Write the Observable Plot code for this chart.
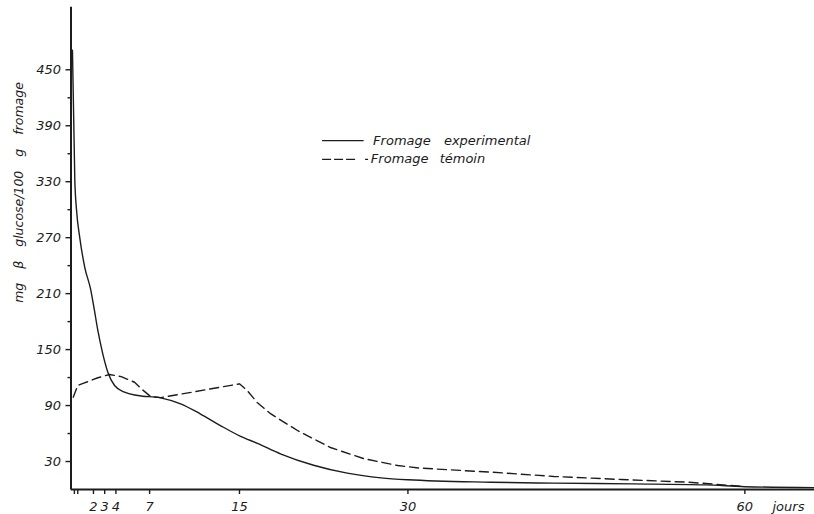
<!DOCTYPE html>
<html>
<head>
<meta charset="utf-8">
<script src="https://cdn.jsdelivr.net/npm/d3@7"></script>
<script src="https://cdn.jsdelivr.net/npm/@observablehq/plot@0.6"></script>
<style>
  html, body { margin: 0; padding: 0; background: #fff; }
  #chart svg text { font-family: "DejaVu Sans", sans-serif; font-style: oblique; }
</style>
</head>
<body>
<div id="chart"></div>
<script>
// ---- data ----
const expDays  = [0.13, 0.34, 0.49, 0.78, 1.23, 1.74, 2.03, 2.39, 2.83, 3.28, 3.88, 4.77, 5.95, 7.98, 9.76, 11.5, 13.3, 15.1, 16.6, 18.7, 21.6, 24.6, 27.6, 30, 37.4, 43, 50, 56.5, 60, 66.2];
const expGluc  = [471, 331, 300, 270, 238, 215, 196, 170.5, 145.5, 125.8, 111.5, 104.3, 100.8, 98.3, 91.9, 81.2, 68.6, 57, 49.5, 38, 26, 17.5, 12.5, 10.4, 7.8, 6.8, 6, 5, 3, 2];
const temDays  = [0.2, 0.6, 1.14, 2.39, 3.43, 4.47, 5.66, 6.26, 7.1, 8.0, 15, 15.7, 16.6, 17.8, 20.2, 23.1, 26.1, 29.1, 31, 37.4, 43, 49, 55, 60];
const temGluc  = [99, 111.5, 114, 119.8, 123.3, 121, 115, 108, 99.5, 98.5, 113.3, 106, 93, 81, 63, 45, 33, 25.7, 23, 18.6, 14, 10.7, 7.8, 3.2];
const seriesNames = ["Fromage experimental", "Fromage témoin"];
const xTicks = [0.3, 0.6, 2, 3, 4, 7, 15, 30, 60];
const xTickLabels = ["", "", "2", "3", "4", "7", "15", "30", "60"];
const yTicks = [30, 90, 150, 210, 270, 330, 390, 450];
const yMinorTicks = [60, 120, 180, 240, 300, 360, 420];
const yLabel = "mg β glucose/100 g fromage";
const xUnit = "jours";

// ---- build tables ----
const expData = expDays.map((d, i) => ({day: d, g: expGluc[i]}));
const temData = temDays.map((d, i) => ({day: d, g: temGluc[i]}));
const xLabelMap = new Map(xTicks.map((t, i) => [t, xTickLabels[i]]));

// legend layout (in data units)
const legend = {x1: 22.4, x2: 26.1, x2b: 26.5, xt: 26.9, y1: 374, y2: 354};

const ink = "#1c1c1c";
const plot = Plot.plot({
  width: 814,
  height: 514,
  marginLeft: 70.5,
  marginRight: 0,
  marginTop: 4,
  marginBottom: 25,
  style: {fontFamily: "DejaVu Sans, sans-serif", color: ink, background: "#fff"},
  x: {domain: [0, 66.2]},
  y: {domain: [0, 520]},
  marks: [
    // axes lines
    Plot.ruleY([0], {stroke: ink, strokeWidth: 2}),
    Plot.ruleX([0], {y1: 0, y2: 517, stroke: ink, strokeWidth: 2}),
    // x ticks
    Plot.axisX(xTicks, {tickSize: 5, tickPadding: 7, fontSize: 13, label: null,
      tickFormat: d => xLabelMap.get(d), stroke: ink, strokeWidth: 1.4}),
    Plot.text([xUnit], {frameAnchor: "bottom-right", dx: -42, dy: 12, textAnchor: "start",
      lineAnchor: "top", fontSize: 13, fill: ink}),
    // y ticks
    Plot.axisY(yTicks, {tickSize: 5, tickPadding: 5, fontSize: 13, label: null,
      stroke: ink, strokeWidth: 1.4}),
    Plot.axisY(yMinorTicks, {tickSize: 3, text: null, label: null, stroke: ink, strokeWidth: 1.4}),
    // y label
    Plot.text([yLabel], {frameAnchor: "left", dx: -52, dy: -54.5, rotate: -90, textAnchor: "middle",
      fontSize: 12.5, fill: ink}),
    // series
    Plot.line(expData, {x: "day", y: "g", stroke: ink, strokeWidth: 1.4, curve: "monotone-x"}),
    Plot.line(temData, {x: "day", y: "g", stroke: ink, strokeWidth: 1.4, strokeDasharray: "9,5", curve: "linear"}),
    // legend
    Plot.ruleY([legend.y1], {x1: legend.x1, x2: legend.x2, stroke: ink, strokeWidth: 1.4}),
    Plot.ruleY([legend.y2], {x1: legend.x1, x2: legend.x2b, stroke: ink, strokeWidth: 1.4,
      strokeDasharray: "9,3,9,3,9,10,3,100"}),
    Plot.text([seriesNames[0]], {x: legend.xt, y: legend.y1, textAnchor: "start", fontSize: 13, fill: ink}),
    Plot.text([seriesNames[1]], {x: legend.xt - 0.2, y: legend.y2, textAnchor: "start", fontSize: 13, fill: ink})
  ]
});
// widen word gaps as in the hand lettering
plot.querySelectorAll("text").forEach(t => {
  if (t.textContent === yLabel) t.setAttribute("word-spacing", "10");
  if (t.textContent === seriesNames[0]) t.setAttribute("word-spacing", "9");
  if (t.textContent === seriesNames[1]) t.setAttribute("word-spacing", "7");
});
document.getElementById("chart").appendChild(plot);
</script>
</body>
</html>
